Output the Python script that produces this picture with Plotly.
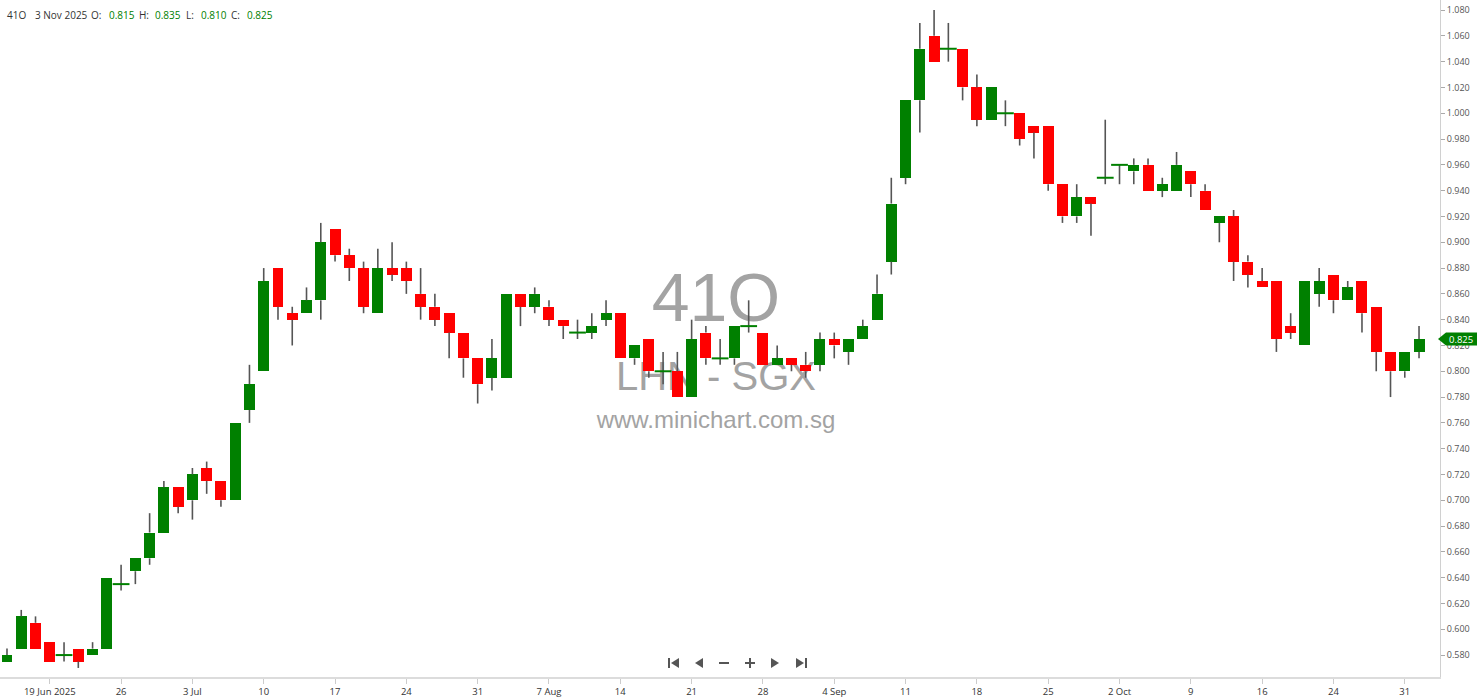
import plotly.graph_objects as go

# ---------------- data ----------------
dates = [
    "2025-06-16", "2025-06-17", "2025-06-18", "2025-06-19", "2025-06-20", "2025-06-23", "2025-06-24",
    "2025-06-25", "2025-06-26", "2025-06-27", "2025-06-30",
    "2025-07-01", "2025-07-02", "2025-07-03", "2025-07-04", "2025-07-07", "2025-07-08", "2025-07-09",
    "2025-07-10", "2025-07-11", "2025-07-14", "2025-07-15", "2025-07-16", "2025-07-17", "2025-07-18",
    "2025-07-21", "2025-07-22", "2025-07-23", "2025-07-24", "2025-07-25", "2025-07-28", "2025-07-29",
    "2025-07-30", "2025-07-31",
    "2025-08-01", "2025-08-04", "2025-08-05", "2025-08-06", "2025-08-07", "2025-08-08", "2025-08-11",
    "2025-08-12", "2025-08-13", "2025-08-14", "2025-08-15", "2025-08-18", "2025-08-19", "2025-08-20",
    "2025-08-21", "2025-08-22", "2025-08-25", "2025-08-26", "2025-08-27", "2025-08-28", "2025-08-29",
    "2025-09-01", "2025-09-02", "2025-09-03", "2025-09-04", "2025-09-05", "2025-09-08", "2025-09-09",
    "2025-09-10", "2025-09-11", "2025-09-12", "2025-09-15", "2025-09-16", "2025-09-17", "2025-09-18",
    "2025-09-19", "2025-09-22", "2025-09-23", "2025-09-24", "2025-09-25", "2025-09-26", "2025-09-29",
    "2025-09-30",
    "2025-10-01", "2025-10-02", "2025-10-03", "2025-10-06", "2025-10-07", "2025-10-08", "2025-10-09",
    "2025-10-10", "2025-10-13", "2025-10-14", "2025-10-15", "2025-10-16", "2025-10-17", "2025-10-21",
    "2025-10-22", "2025-10-23", "2025-10-24", "2025-10-27", "2025-10-28", "2025-10-29", "2025-10-30",
    "2025-10-31",
    "2025-11-03",
]

opens = [
    0.575, 0.585, 0.605, 0.590, 0.580, 0.585, 0.580, 0.585, 0.635, 0.645,
    0.655, 0.675, 0.710, 0.700, 0.725, 0.715, 0.700, 0.770, 0.800, 0.880,
    0.845, 0.845, 0.855, 0.910, 0.890, 0.880, 0.845, 0.880, 0.880, 0.860,
    0.850, 0.845, 0.830, 0.810, 0.795, 0.795, 0.860, 0.850, 0.850, 0.840,
    0.830, 0.830, 0.840, 0.845, 0.810, 0.825, 0.800, 0.800, 0.780, 0.830,
    0.810, 0.810, 0.835, 0.830, 0.805, 0.810, 0.805, 0.805, 0.825, 0.815,
    0.825, 0.840, 0.885, 0.950, 1.010, 1.060, 1.050, 1.050, 1.020, 0.995,
    1.000, 1.000, 0.990, 0.990, 0.945, 0.920, 0.935, 0.950, 0.960, 0.955,
    0.960, 0.940, 0.940, 0.955, 0.940, 0.915, 0.920, 0.885, 0.870, 0.870,
    0.835, 0.820, 0.860, 0.875, 0.855, 0.870, 0.850, 0.815, 0.800, 0.815,
]
highs = [
    0.585, 0.615, 0.610, 0.590, 0.590, 0.585, 0.590, 0.640, 0.650, 0.655,
    0.690, 0.715, 0.710, 0.725, 0.730, 0.715, 0.760, 0.805, 0.880, 0.880,
    0.850, 0.865, 0.915, 0.910, 0.895, 0.885, 0.895, 0.900, 0.885, 0.880,
    0.860, 0.845, 0.830, 0.810, 0.825, 0.860, 0.860, 0.865, 0.855, 0.840,
    0.840, 0.845, 0.855, 0.845, 0.820, 0.825, 0.815, 0.815, 0.840, 0.835,
    0.825, 0.835, 0.855, 0.830, 0.820, 0.810, 0.815, 0.830, 0.830, 0.825,
    0.840, 0.875, 0.950, 1.010, 1.070, 1.080, 1.070, 1.050, 1.030, 1.020,
    1.010, 1.000, 0.990, 0.990, 0.945, 0.945, 0.935, 0.995, 0.960, 0.965,
    0.965, 0.950, 0.970, 0.955, 0.945, 0.920, 0.925, 0.890, 0.880, 0.870,
    0.845, 0.870, 0.880, 0.875, 0.870, 0.870, 0.850, 0.815, 0.815, 0.835,
]
lows = [
    0.575, 0.585, 0.585, 0.575, 0.575, 0.570, 0.580, 0.585, 0.630, 0.635,
    0.650, 0.675, 0.690, 0.685, 0.705, 0.695, 0.700, 0.760, 0.800, 0.840,
    0.820, 0.845, 0.840, 0.885, 0.870, 0.845, 0.845, 0.870, 0.860, 0.840,
    0.835, 0.810, 0.795, 0.775, 0.785, 0.795, 0.835, 0.845, 0.835, 0.825,
    0.825, 0.825, 0.835, 0.810, 0.805, 0.795, 0.790, 0.780, 0.780, 0.805,
    0.805, 0.805, 0.830, 0.805, 0.805, 0.800, 0.795, 0.800, 0.810, 0.805,
    0.825, 0.840, 0.875, 0.945, 0.985, 1.040, 1.040, 1.010, 0.990, 0.995,
    0.990, 0.975, 0.965, 0.940, 0.915, 0.915, 0.905, 0.945, 0.945, 0.945,
    0.940, 0.935, 0.940, 0.935, 0.925, 0.900, 0.870, 0.865, 0.865, 0.815,
    0.825, 0.820, 0.850, 0.845, 0.855, 0.830, 0.800, 0.780, 0.795, 0.810,
]
closes = [
    0.580, 0.610, 0.585, 0.575, 0.580, 0.575, 0.585, 0.640, 0.635, 0.655,
    0.675, 0.710, 0.695, 0.720, 0.715, 0.700, 0.760, 0.790, 0.870, 0.850,
    0.840, 0.855, 0.900, 0.890, 0.880, 0.850, 0.880, 0.875, 0.870, 0.850,
    0.840, 0.830, 0.810, 0.790, 0.810, 0.860, 0.850, 0.860, 0.840, 0.835,
    0.830, 0.835, 0.845, 0.810, 0.820, 0.800, 0.800, 0.780, 0.825, 0.810,
    0.810, 0.835, 0.835, 0.805, 0.810, 0.805, 0.800, 0.825, 0.820, 0.825,
    0.835, 0.860, 0.930, 1.010, 1.050, 1.040, 1.050, 1.020, 0.995, 1.020,
    1.000, 0.980, 0.985, 0.945, 0.920, 0.935, 0.930, 0.950, 0.960, 0.960,
    0.940, 0.945, 0.960, 0.945, 0.925, 0.920, 0.885, 0.875, 0.865, 0.825,
    0.830, 0.870, 0.870, 0.855, 0.865, 0.845, 0.815, 0.800, 0.815, 0.825,
]

tick_dates = [
    "2025-06-19", "2025-06-26", "2025-07-03", "2025-07-10", "2025-07-17", "2025-07-24", "2025-07-31",
    "2025-08-07", "2025-08-14", "2025-08-21", "2025-08-28", "2025-09-04", "2025-09-11", "2025-09-18",
    "2025-09-25", "2025-10-02", "2025-10-09", "2025-10-16", "2025-10-24", "2025-10-31",
]
tick_labels = [
    "19 Jun 2025", "26", "3 Jul", "10", "17", "24", "31", "7 Aug", "14", "21", "28",
    "4 Sep", "11", "18", "25", "2 Oct", "9", "16", "24", "31",
]
ticker = "41O"
exchange_label = "LHN - SGX"
site_label = "www.minichart.com.sg"
last_date_label = "3 Nov 2025"

# ---------------- styling ----------------
UP = "#008000"
DOWN = "#ff0000"
WICK = "#555555"
W, H = 1480, 699
ML, MR, MT, MB = 0, 40, 0, 22
PW, PH = W - ML - MR, H - MT - MB
Y0, Y1 = 0.5630, 1.0878
FONT = "Open Sans"


def px(x):
    return x / PW


def py(y):
    return 1 - y / PH


idx = list(range(len(dates)))
body_base = [min(o, c) for o, c in zip(opens, closes)]
body_len = [abs(c - o) for o, c in zip(opens, closes)]
body_col = [UP if c >= o else DOWN for o, c in zip(opens, closes)]

wx, wy = [], []
for i, o, h, l, c in zip(idx, opens, highs, lows, closes):
    top, bot = max(o, c), min(o, c)
    if h > top + 1e-9:
        wx += [i, i, None]
        wy += [top, h, None]
    if l < bot - 1e-9:
        wx += [i, i, None]
        wy += [l, bot, None]

dx = [i for i, o, c in zip(idx, opens, closes) if round(o, 3) == round(c, 3)]
dy = [c for o, c in zip(opens, closes) if round(o, 3) == round(c, 3)]

fig = go.Figure()
fig.add_trace(go.Scatter(x=wx, y=wy, mode="lines", line=dict(color=WICK, width=1.6),
                         hoverinfo="skip", showlegend=False))
fig.add_trace(go.Scatter(x=dx, y=dy, mode="markers",
                         marker=dict(symbol="line-ew", size=12, line=dict(color=UP, width=2)),
                         hoverinfo="skip", showlegend=False))
fig.add_trace(go.Bar(x=idx, y=body_len, base=body_base, width=0.77,
                     marker=dict(color=body_col, line=dict(width=0)),
                     hoverinfo="skip", showlegend=False))

shapes = []
# watermark (below traces)
wm = [
    (ticker, 68, 291, 60),
    (exchange_label, 40, 372, 40),
    (site_label, 24, 417, 26),
]
for txt, size, cy, hh in wm:
    shapes.append(dict(
        type="rect", xref="paper", yref="paper", layer="below",
        x0=px(716 - 200), x1=px(716 + 200), y0=py(cy + hh / 2), y1=py(cy - hh / 2),
        line=dict(width=0), fillcolor="rgba(0,0,0,0)",
        label=dict(text=txt, font=dict(family="Liberation Sans", size=size, color="#a3a3a3"),
                   textposition="middle center"),
    ))

# navigation icons
NAV = "#555555"


def tri(points):
    return "M " + " L ".join(f"{px(a)},{py(b)}" for a, b in points) + " Z"


nav_paths = [
    tri([(668, 658), (670, 658), (670, 668), (668, 668)]),
    tri([(679, 658), (679, 668), (671, 663)]),
    tri([(703, 658), (703, 668), (695, 663)]),
    tri([(719, 662), (729, 662), (729, 664), (719, 664)]),
    tri([(745, 662), (755, 662), (755, 664), (745, 664)]),
    tri([(749, 658), (751, 658), (751, 668), (749, 668)]),
    tri([(771, 658), (771, 668), (779, 663)]),
    tri([(796, 658), (796, 668), (804, 663)]),
    tri([(805, 658), (807, 658), (807, 668), (805, 668)]),
]
for p in nav_paths:
    shapes.append(dict(type="path", xref="paper", yref="paper", path=p,
                       fillcolor=NAV, line=dict(width=0), layer="above"))

# last price tag
last = closes[-1]
ly = (last - Y0) / (Y1 - Y0)
hpx = 6.5 / PH
shapes.append(dict(
    type="path", xref="paper", yref="paper", layer="above",
    path=(f"M {px(1438)},{ly} L {px(1446)},{ly + hpx} L {px(1477)},{ly + hpx} "
          f"L {px(1477)},{ly - hpx} L {px(1446)},{ly - hpx} Z"),
    fillcolor=UP, line=dict(width=0),
))

annotations = [dict(
    x=px(1461), y=last, xref="paper", yref="y", text=f"{last:.3f}", showarrow=False,
    xanchor="center", yanchor="middle", font=dict(family=FONT, size=9.5, color="white"),
)]

header = [
    (ticker, 5, "#333333"),
    (last_date_label, 33, "#333333"),
    ("O:", 89, "#333333"), (f"{opens[-1]:.3f}", 107, UP),
    ("H:", 137, "#333333"), (f"{highs[-1]:.3f}", 153, UP),
    ("L:", 184, "#333333"), (f"{lows[-1]:.3f}", 199, UP),
    ("C:", 229, "#333333"), (f"{closes[-1]:.3f}", 245, UP),
]
for txt, x, col in header:
    annotations.append(dict(x=px(x), y=py(15), xref="paper", yref="paper", text=txt,
                            showarrow=False, xanchor="left", yanchor="middle",
                            font=dict(family=FONT, size=10, color=col)))

fig.update_layout(
    width=W, height=H, margin=dict(l=ML, r=MR, t=MT, b=MB),
    paper_bgcolor="white", plot_bgcolor="white",
    shapes=shapes, annotations=annotations, bargap=0,
    font=dict(family=FONT, color="#444444"),
)
fig.update_xaxes(
    type="linear", range=[-0.49, len(dates) - 1 + 1.47],
    tickvals=[dates.index(d) for d in tick_dates], ticktext=tick_labels,
    showgrid=False, zeroline=False, showline=True, linecolor="#dcdcdc", linewidth=2,
    ticks="outside", ticklen=5, tickcolor="#cccccc",
    tickfont=dict(family=FONT, size=9.5, color="#333333"),
)
fig.update_yaxes(
    side="right", range=[Y0, Y1], tick0=0.58, dtick=0.02, tickformat=".3f",
    showgrid=False, zeroline=False, showline=True, linecolor="#d0d0d0", linewidth=1,
    ticks="outside", ticklen=4, tickcolor="#aaaaaa",
    tickfont=dict(family=FONT, size=9, color="#555555"),
)

fig.write_html(
    "out.html",
    config={"displayModeBar": False},
    post_script="document.body.style.margin='0';document.body.style.overflow='hidden';",
)
